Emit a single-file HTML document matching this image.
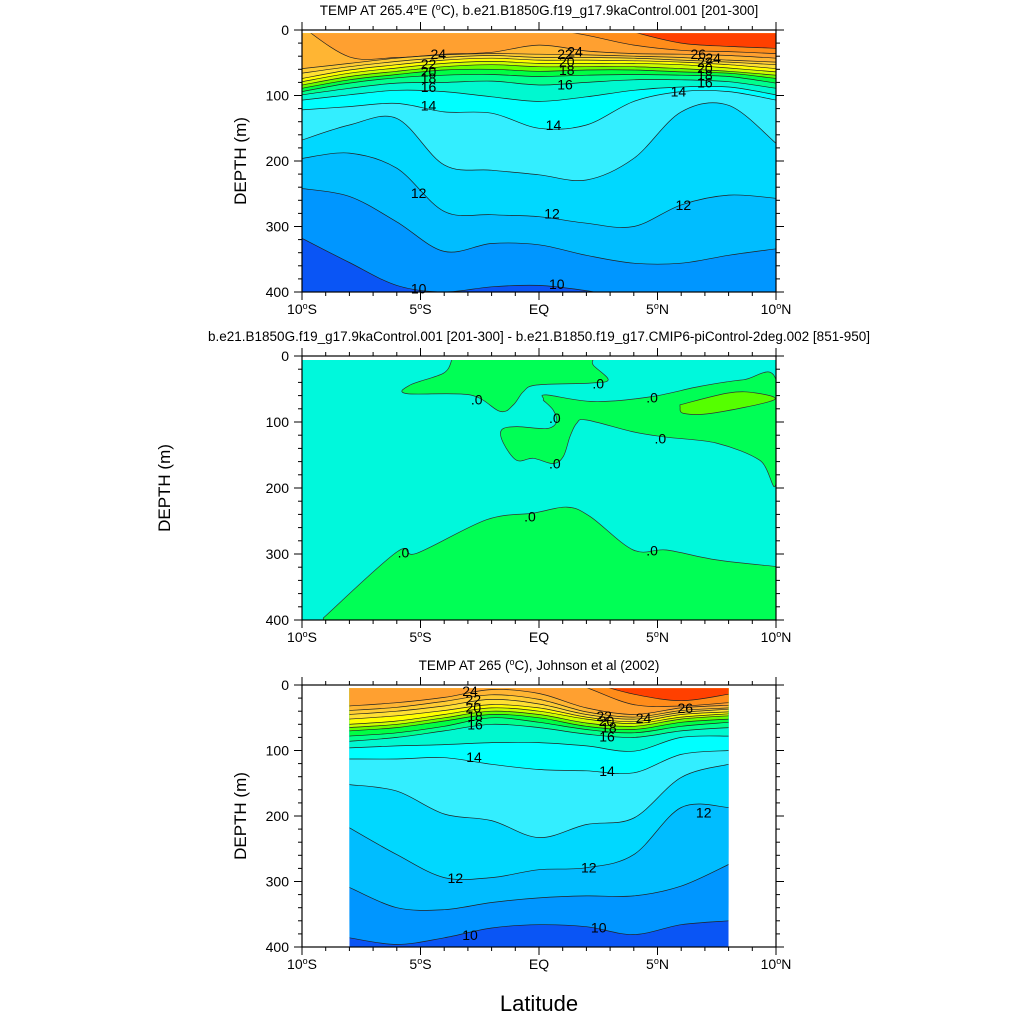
<!DOCTYPE html>
<html><head><meta charset="utf-8">
<style>
body{margin:0;background:#fff;}
svg{display:block;font-family:"Liberation Sans",sans-serif;}
</style></head>
<body>
<svg id="chart" width="1024" height="1024" viewBox="0 0 1024 1024">
<rect width="1024" height="1024" fill="#fff"/>
</svg>
<script>
// ---------- DATA ----------
const levels = [10,11,12,13,14,15,16,17,18,19,20,21,22,23,24,25,26];
const bandColors = ["#0a55f5","#0096ff","#00bdff","#00d8ff","#33eeff","#00ffff","#00f8d0","#00ff8c","#00ff44","#66ff00","#ccff00","#ffff00","#ffe033","#ffcc33","#ffb533","#ffa030","#ff8c1a","#ff4000"];
const lats1 = [-10,-8,-6,-4,-2,0,2,4,6,8,10];
const iso1 = [
 [318,355,390,400,392,390,398,410,410,410,410],
 [242,254,293,338,326,328,344,356,356,344,334],
 [196,188,211,277,282,285,295,300,267,252,257],
 [168,145,135,206,214,221,229,196,125,115,173],
 [122,117,112,125,127,150,145,109,94,94,107],
 [107,99,92,94,102,109,102,92,87,87,99],
 [99,89,81,80,78,84,80,76,76,79,89],
 [94,81,73,69,68,71,69,68,69,71,81],
 [89,76,68,61,60,63,61,61,64,66,74],
 [84,71,63,56,53,56,56,56,59,63,69],
 [79,66,58,51,48,51,51,51,53,58,64],
 [74,61,53,46,43,46,46,47,49,53,59],
 [66,56,48,42,39,42,42,43,46,49,53],
 [59,51,43,38,36,37,38,40,42,46,49],
 [-5,41,42,37,34,23,32,36,37,39,43],
 [-20,-20,-20,-20,-20,-5,8,23,31,33,36],
 [-20,-20,-20,-20,-20,-20,-20,3,20,25,28]
];
const lats3 = [-8,-6,-4,-2,0,2,4,6,8];
const iso3 = [
 [386,396,386,371,366,369,381,366,360],
 [309,340,343,332,325,322,322,307,274],
 [218,259,294,294,282,279,259,187,187],
 [152,162,197,207,233,213,203,141,121],
 [113,113,111,121,129,131,134,106,100],
 [96,93,91,88,88,93,101,80,78],
 [86,80,70,60,65,75,80,70,65],
 [78,73,63,50,57,68,73,63,57],
 [70,65,55,45,50,63,68,57,52],
 [65,60,50,40,45,58,63,52,47],
 [60,55,45,35,40,52,59,49,44],
 [52,47,39,30,35,49,56,45,41],
 [45,40,32,22,29,45,52,42,37],
 [39,34,25,15,22,41,49,39,35],
 [32,27,19,7,13,35,45,35,31],
 [-20,-20,-20,-20,-20,4,30,32,27],
 [-20,-20,-20,-20,-20,-5,14,24,14]
];
// panel 2 regions as [lat, depth] outlines
const diffBottom = [[-9.1,397],[-6.0,297],[-5.16,299],[-2.21,248],[-0.24,238],[1.17,229],[2.15,243],[3.98,294],[5.38,294],[7.49,309],[10,319]];
const diffBlobTop = [[-3.68,5],[-3.68,6],[-4.03,26],[-5.44,44],[-5.58,57],[-2.91,59],[-1.64,84],[-1.08,74],[-0.66,54],[-0.10,44],[2.15,41],[2.92,36],[2.29,14],[2.29,5]];
const diffBlobRight = [[0.18,64],[0.32,59],[2.29,69],[4.68,62],[6.79,46],[8.62,36],[10,36],[10,193],[9.32,158],[7.49,132],[5.38,123],[3.98,115],[2.01,97],[1.59,102],[1.31,122],[1.03,152],[0.60,163],[-0.24,155],[-0.94,158],[-1.50,132],[-1.58,112],[-0.94,107],[0.32,110],[0.74,100],[0.60,82],[0.18,67]];
const diffLime = [[5.95,77],[6.1,87],[7.26,87],[9.89,67],[9.16,56],[7.99,56],[5.95,74]];
const xTickVals = [-10,-5,0,5,10];
const xTickLabels = ["10°S","5°S","EQ","5°N","10°N"];
const yTickVals = [0,100,200,300,400];
const labels1 = [["24",-4.25,37],["22",-4.66,52],["20",-4.66,63],["18",-4.66,73],["16",-4.66,87],["14",-4.66,115],["14",0.61,145],["12",-5.08,249],["12",0.55,280],["12",6.09,267],["10",-5.08,395],["10",0.75,388],["16",1.1,83],["18",1.17,61],["20",1.17,48],["22",1.1,37],["24",1.52,33],["26",6.72,37],["24",7.35,43],["22",7.0,49],["20",7.0,58],["18",7.0,69],["16",7.0,80],["14",5.88,94]];
const labels3 = [["24",-2.91,9],["22",-2.77,22],["20",-2.77,34],["18",-2.7,47],["16",-2.7,60],["14",-2.74,110],["12",-3.53,295],["10",-2.91,382],["14",2.87,131],["12",2.1,279],["12",6.95,195],["10",2.52,370],["22",2.75,47],["20",2.85,55],["18",2.95,65],["16",2.87,79],["24",4.41,50],["26",6.17,35]];
const labels2 = [[-2.63,66],[2.5,42],[4.77,63],[0.67,94],[5.12,125],[0.67,163],[-5.72,298],[-0.38,243],[4.77,295]];

// ---------- HELPERS ----------
const NS="http://www.w3.org/2000/svg";
const svg=document.getElementById('chart');
function el(tag,attrs,parent){const e=document.createElementNS(NS,tag);for(const k in attrs)e.setAttribute(k,attrs[k]);(parent||svg).appendChild(e);return e;}
function smooth(pts){
  let d="M"+pts[0][0].toFixed(1)+","+pts[0][1].toFixed(1);
  for(let i=0;i<pts.length-1;i++){
    const p0=pts[Math.max(0,i-1)],p1=pts[i],p2=pts[i+1],p3=pts[Math.min(pts.length-1,i+2)];
    const c1=[p1[0]+(p2[0]-p0[0])/6,p1[1]+(p2[1]-p0[1])/6];
    const c2=[p2[0]-(p3[0]-p1[0])/6,p2[1]-(p3[1]-p1[1])/6];
    d+=" C"+c1[0].toFixed(1)+","+c1[1].toFixed(1)+" "+c2[0].toFixed(1)+","+c2[1].toFixed(1)+" "+p2[0].toFixed(1)+","+p2[1].toFixed(1);
  }
  return d;
}
function makeAxes(y0,y1){
  const X0=302,X1=776;
  return {X0,X1,y0,y1,x:v=>X0+(v+10)/20*(X1-X0),y:d=>y0+d/400*(y1-y0)};
}
function frame(A,name,title,ytitleX){
  const g=el('g',{},svg);
  
  
  el('rect',{x:A.X0,y:A.y0,width:A.X1-A.X0,height:A.y1-A.y0,fill:'none',stroke:'#000','stroke-width':1.2},g);
  for(let v=-10;v<=10;v++){
    const major=v%5===0,L=major?8:4,x=A.x(v);
    el('line',{x1:x,x2:x,y1:A.y1,y2:A.y1+L,stroke:'#000','stroke-width':1},g);
    el('line',{x1:x,x2:x,y1:A.y0,y2:A.y0-L,stroke:'#000','stroke-width':1},g);
  }
  for(let d=0;d<=400;d+=20){
    const major=d%100===0,L=major?8:4,y=A.y(d);
    el('line',{x1:A.X0,x2:A.X0-L,y1:y,y2:y,stroke:'#000','stroke-width':1},g);
    el('line',{x1:A.X1,x2:A.X1+L,y1:y,y2:y,stroke:'#000','stroke-width':1},g);
  }
  xTickVals.forEach((v,i)=>{
    const t=el('text',{x:A.x(v),y:A.y1+22,'text-anchor':'middle','font-size':14},g);
    
    
    const s=xTickLabels[i];
    if(s.indexOf('°')>=0){const p=s.split('°');
      const a=el('tspan',{},t);a.textContent=p[0];
      const b=el('tspan',{dy:-5,'font-size':9},t);b.textContent='o';
      const c=el('tspan',{dy:5},t);c.textContent=p[1];
    } else t.textContent=s;
  });
  yTickVals.forEach(v=>{
    const t=el('text',{x:A.X0-13,y:A.y(v)+5,'text-anchor':'end','font-size':14},g);
    
    
    t.textContent=v;
  });
  const yt=el('text',{x:ytitleX,y:(A.y0+A.y1)/2,'text-anchor':'middle','font-size':17,transform:`rotate(-90 ${ytitleX} ${(A.y0+A.y1)/2})`},g);
  
  
  yt.textContent='DEPTH (m)';
  const tt=el('text',{x:539,y:A.y0-15,'text-anchor':'middle','font-size':13.5},g);
  
  
  title.forEach(p=>{const s=el('tspan',p.sup?{dy:-5,'font-size':9}:(p.down?{dy:5}:{}),tt);s.textContent=p.t;});
}
function contourPanel(A,lats,iso,labels,name,id){
  const g=el('g',{},svg);
  
  
  const cp=el('clipPath',{id:id},g);
  const xa=A.x(lats[0]),xb=A.x(lats[lats.length-1]);
  el('rect',{x:xa,y:A.y(5),width:xb-xa,height:A.y(400)-A.y(5)},cp);
  const inner=el('g',{'clip-path':`url(#${id})`},g);
  el('rect',{x:xa,y:A.y(0),width:xb-xa,height:A.y1-A.y0,fill:bandColors[0]},inner);
  levels.forEach((L,i)=>{
    const pts=lats.map((la,j)=>[A.x(la),A.y(iso[i][j])]);
    const d=smooth(pts);
    const f=el('path',{d:d+` L${xb+5},${A.y(-60)} L${xa-5},${A.y(-60)} Z`,fill:bandColors[i+1]},inner);
    
    
  });
  levels.forEach((L,i)=>{
    const pts=lats.map((la,j)=>[A.x(la),A.y(iso[i][j])]);
    const p=el('path',{d:smooth(pts),fill:'none',stroke:'#222','stroke-width':0.7},inner);
    
    
  });
  labels.forEach(l=>{
    const t=el('text',{x:A.x(l[1]),y:A.y(l[2])+5,'text-anchor':'middle','font-size':14},g);
    
    
    t.textContent=l[0];
  });
}

// ---------- PANEL 1 ----------
const A1=makeAxes(30,292);
contourPanel(A1,lats1,iso1,labels1,'panel-1','clip1');
frame(A1,'panel-1',[{t:'TEMP AT 265.4'},{t:'o',sup:1},{t:'E (',down:1},{t:'o',sup:1},{t:'C), b.e21.B1850G.f19_g17.9kaControl.001 [201-300]',down:1}],246);

// ---------- PANEL 2 ----------
const A2=makeAxes(356,620);
(function(){
  const g=el('g',{},svg);
  
  
  const cp=el('clipPath',{id:'clip2'},g);
  el('rect',{x:A2.X0,y:A2.y(6),width:A2.X1-A2.X0,height:A2.y(400)-A2.y(6)},cp);
  const inner=el('g',{'clip-path':'url(#clip2)'},g);
  el('rect',{x:A2.X0,y:A2.y0,width:A2.X1-A2.X0,height:A2.y1-A2.y0,fill:'#00f8dc'},inner);
  const poly=(arr,fill,nm,closeBottom)=>{
    const pts=arr.map(p=>[A2.x(p[0]),A2.y(p[1])]);
    let d=smooth(pts);
    if(closeBottom) d+=` L${A2.x(10)+2},${A2.y(410)} L${A2.x(-9.1)},${A2.y(410)} Z`; else d+=' Z';
    const f=el('path',{d:d,fill:fill,stroke:'#333','stroke-width':0.7},inner);
    
    
  };
  poly(diffBottom,'#00ff55','diff-region-deep',true);
  poly(diffBlobTop,'#00ff55','diff-region-upper-left',false);
  poly(diffBlobRight,'#00ff55','diff-region-upper-right',false);
  poly(diffLime,'#55ff00','diff-region-lime',false);
  labels2.forEach(l=>{
    const t=el('text',{x:A2.x(l[0]),y:A2.y(l[1])+5,'text-anchor':'middle','font-size':14},g);
    
    
    t.textContent='.0';
  });
})();
frame(A2,'panel-2',[{t:'b.e21.B1850G.f19_g17.9kaControl.001 [201-300] - b.e21.B1850.f19_g17.CMIP6-piControl-2deg.002 [851-950]'}],170);

// ---------- PANEL 3 ----------
const A3=makeAxes(685,947);
contourPanel(A3,lats3,iso3,labels3,'panel-3','clip3');
frame(A3,'panel-3',[{t:'TEMP AT 265 ('},{t:'o',sup:1},{t:'C), Johnson et al (2002)',down:1}],246);

const xt=el('text',{x:539,y:1011,'text-anchor':'middle','font-size':22});


xt.textContent='Latitude';
</script>
</body></html>
